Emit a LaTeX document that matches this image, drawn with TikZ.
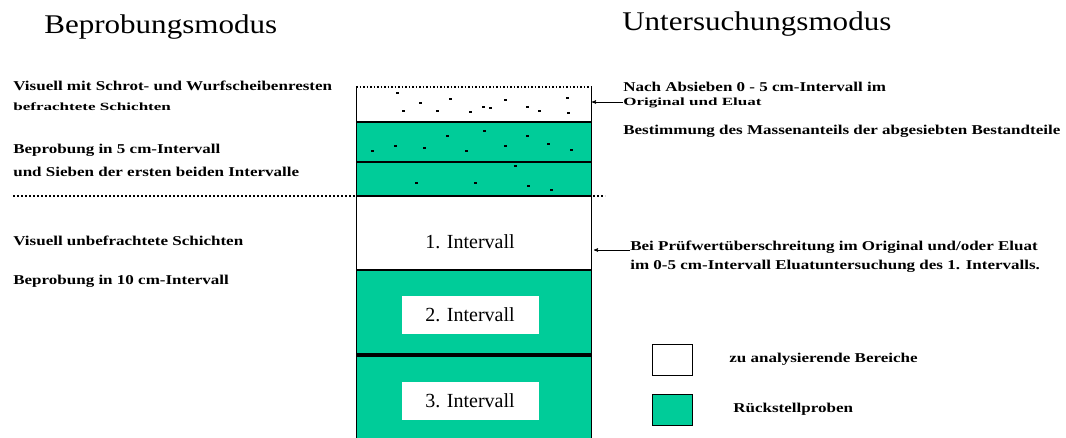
\documentclass[tikz,border=0pt]{standalone}
\usepackage{fontspec}
\setmainfont{Liberation Serif}
\newfontfamily\widefont[FakeStretch=1.26]{Liberation Serif}
\newfontfamily\widerfont[FakeStretch=1.55]{Liberation Serif}
\newfontfamily\headfont[FakeStretch=1.15]{Liberation Serif}
\usepackage{tikz}
\usetikzlibrary{arrows,positioning}
\definecolor{probegreen}{RGB}{0,204,153}

\begin{document}
\begin{tikzpicture}[x=1pt,y=-1pt,>=stealth',semithick]
		\tikzstyle{every node}=[inner sep=0pt]
		\tikzstyle{title}=[anchor=west,font=\headfont\fontsize{27}{29}\selectfont]
		\tikzstyle{note}=[anchor=west,font=\widefont\bfseries\fontsize{13.5}{15}\selectfont]
		\tikzstyle{small note}=[anchor=west,font=\widerfont\bfseries\fontsize{11}{13}\selectfont]
		\tikzstyle{band}=[draw=black,line width=0.6pt]
		\tikzstyle{sep}=[line width=2.6pt]
		\tikzstyle{interval}=[font=\fontsize{20}{22}\selectfont]
		\tikzstyle{grain}=[fill=black,minimum width=3pt,minimum height=1.5pt]
		
		\useasboundingbox (0,0) rectangle (1066,438);
		
		% column of layers
		\fill[white]       (356,87)  rectangle (591,122);
		\fill[probegreen]  (356,122) rectangle (591,196);
		\fill[white]       (356,196) rectangle (591,270);
		\fill[probegreen]  (356,270) rectangle (591,438);
		\draw[band] (356,438) -- (356,87) (591,87) -- (591,438);
		\draw[dotted,line width=1.5pt] (356,87) -- (591,87);
		\draw[sep] (356,122) -- (591,122);
		\draw[line width=1.6pt] (356,162) -- (591,162);
		\draw[sep] (356,196) -- (591,196);
		\draw[sep] (356,270) -- (591,270);
		\draw[line width=3.4pt] (356,355) -- (591,355);
		\draw[dotted,line width=2pt] (13,196) -- (605,196);
		
		% grains of shot
		\foreach \gx/\gy in {397/93,420/103,450/99,470/112,403/111,437/111,483/107,
			505/100,527/107,539/111,567/98,568/113,490/108,
			372/151,395/146,424/148,447/136,466/151,484/131,505/146,527/136,548/144,571/150,
			515/166,416/183,475/183,528/186,551/190}
			\node[grain] at (\gx,\gy) {};
		
		% white label boxes
		\node[interval] (I1) at (470,242) {1. Intervall};
		\node[fill=white,minimum width=137pt,minimum height=38pt,interval] (I2) at (470,315) {2. Intervall};
		\node[fill=white,minimum width=137pt,minimum height=38pt,interval] (I3) at (470,401) {3. Intervall};
		
		% headings
		\node[title] (beprob) at (44,27) {Beprobungsmodus};
		\node[title] (unters) at (622,24) {Untersuchungsmodus};
		
		% left side
		\node[note]       (vis1) at (13,86)  {Visuell mit Schrot- und Wurfscheibenresten};
		\node[small note] (vis2) at (13,107) {befrachtete Schichten};
		\node[note]       (bep1) at (13,150) {Beprobung in 5 cm-Intervall};
		\node[note]       (bep2) at (13,172) {und Sieben der ersten beiden Intervalle};
		\node[note]       (unb)  at (13,241) {Visuell unbefrachtete Schichten};
		\node[note]       (bep3) at (13,281) {Beprobung in 10 cm-Intervall};
		
		% right side
		\node[note]       (nach) at (623,87)  {Nach Absieben 0 - 5 cm-Intervall im};
		\node[small note] (orig) at (623,103) {Original und Eluat};
		\node[note]       (best) at (623,131) {Bestimmung des Massenanteils der abgesiebten Bestandteile};
		\node[note]       (bei)  at (630,247) {Bei Prüfwertüberschreitung im Original und/oder Eluat};
		\node[note]       (im05) at (630,266) {im 0-5 cm-Intervall Eluatuntersuchung des 1. Intervalls.};
		
		\coordinate (hitA) at (592,102);
		\coordinate (hitB) at (594,250);
		\draw[->] (orig.west |- hitA) -- (hitA);
		\draw[->] (bei.west |- hitB) -- (hitB);
		
		% legend
		\node[draw,line width=1pt,fill=white,minimum width=40pt,minimum height=31pt] (legW) at (672,360) {};
		\node[draw,line width=1pt,fill=probegreen,minimum width=40pt,minimum height=31pt] (legG) at (672,410) {};
		\node[note] (legWt) at (729,359) {zu analysierende Bereiche};
		\node[note] (legGt) at (733,409) {Rückstellproben};
\end{tikzpicture}
\end{document}
